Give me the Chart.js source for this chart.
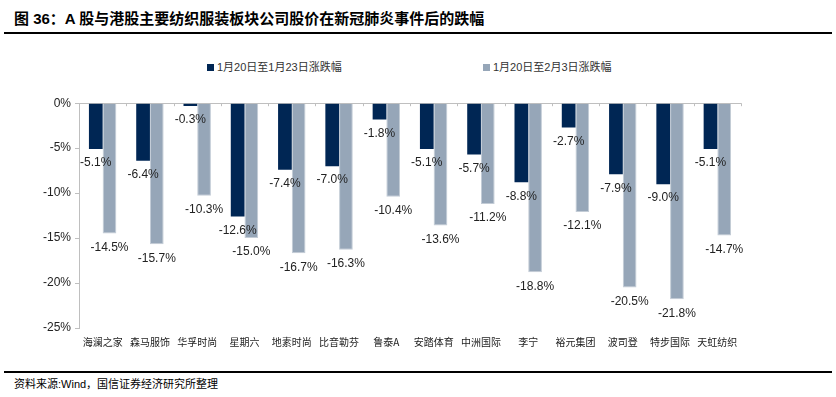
<!DOCTYPE html>
<html>
<head>
<meta charset="utf-8">
<script src="https://cdn.jsdelivr.net/npm/chart.js@4/dist/chart.umd.min.js"></script>
<style>
  body { margin: 0; background: #fff; width: 836px; height: 397px; position: relative; overflow: hidden;
         font-family: "Liberation Sans", "Noto Sans CJK SC", sans-serif; }
  #title { position: absolute; left: 14px; top: 7px; font-size: 15px; font-weight: bold; color: #000; white-space: nowrap; }
  #topline { position: absolute; left: 4px; top: 32px; width: 828px; height: 2px; background: #000; }
  #bottomline { position: absolute; left: 4px; top: 371px; width: 828px; height: 1.5px; background: #000; }
  #source { position: absolute; left: 14px; top: 375px; font-size: 11px; color: #000; white-space: nowrap; }
  #wrap { position: absolute; left: 0; top: 92px; width: 836px; height: 256px; }
  .leg { position: absolute; top: 58px; font-size: 11px; color: #333; white-space: nowrap; }
  .leg i { display: inline-block; width: 7px; height: 7px; margin-right: 3px; vertical-align: 0px; }
</style>
</head>
<body>
<div id="title">图 36：A 股与港股主要纺织服装板块公司股价在新冠肺炎事件后的跌幅</div>
<div id="topline"></div>
<div id="legend"></div>
<div id="wrap"><canvas id="bar-chart"></canvas></div>
<div id="bottomline"></div>
<div id="source">资料来源:Wind，国信证券经济研究所整理</div>
<script>
const labels1 = ["海澜之家", "森马服饰", "华孚时尚", "星期六", "地素时尚", "比音勒芬", "鲁泰A",
  "安踏体育", "中洲国际", "李宁", "裕元集团", "波司登", "特步国际", "天虹纺织"];
const data1 = [-5.1, -6.4, -0.3, -12.6, -7.4, -7.0, -1.8, -5.1, -5.7, -8.8, -2.7, -7.9, -9.0, -5.1];
const data2 = [-14.5, -15.7, -10.3, -15.0, -16.7, -16.3, -10.4, -13.6, -11.2, -18.8, -12.1, -20.5, -21.8, -14.7];
const seriesNames = ["1月20日至1月23日涨跌幅", "1月20日至2月3日涨跌幅"];
const colors = ["#002654", "#96A6B8"];

// 범례는 HTML로
const legendX = [207, 483];
seriesNames.forEach((name, k) => {
  const d = document.createElement("div");
  d.className = "leg";
  d.style.left = legendX[k] + "px";
  d.innerHTML = `<i style="background:${colors[k]}"></i>${name}`;
  document.getElementById("legend").appendChild(d);
});

// 막대 끝 아래에 값 표시 + 카테고리 경계 눈금
const barLabels = {
  id: "barLabels",
  afterDatasetsDraw(chart) {
    const ctx = chart.ctx;
    ctx.save();
    ctx.font = "12px 'Liberation Sans', Arial, sans-serif";
    ctx.fillStyle = "#222";
    ctx.textAlign = "center";
    ctx.textBaseline = "middle";
    chart.data.datasets.forEach((ds, di) => {
      chart.getDatasetMeta(di).data.forEach((bar, i) => {
        ctx.fillText(ds.data[i].toFixed(1) + "%", bar.x, bar.y + 14);
      });
    });
    const x = chart.scales.x, y = chart.scales.y;
    const y0 = y.getPixelForValue(0);
    ctx.strokeStyle = "#BFBFBF";
    ctx.lineWidth = 1;
    ctx.beginPath();
    for (let i = 0; i <= labels1.length; i++) {
      const px = Math.round(x.getPixelForValue(i - 0.5)) + 0.5;
      ctx.moveTo(px, y0);
      ctx.lineTo(px, y0 + 3);
    }
    ctx.stroke();
    ctx.restore();
  },
};

new Chart(document.getElementById("bar-chart"), {
  type: "bar",
  data: {
    labels: labels1,
    datasets: [
      {
        label: seriesNames[0],
        backgroundColor: colors[0],
        data: data1,
      },
      {
        label: seriesNames[1],
        backgroundColor: colors[1],
        borderColor: "#C3CCD6",
        borderWidth: 1,
        data: data2,
      },
    ],
  },
  options: {
    responsive: true,
    maintainAspectRatio: false,
    animation: false,
    layout: { padding: { left: 0, right: 95, top: 0, bottom: 0 } },
    datasets: { bar: { categoryPercentage: 0.58, barPercentage: 1.0 } },
    plugins: {
      legend: { display: false },
      tooltip: { enabled: false },
    },
    scales: {
      x: {
        grid: { display: false },
        border: { display: false },
        ticks: {
          color: "#222",
          padding: 0,
          maxRotation: 0,
          autoSkip: false,
          font: { size: 10, family: "'Noto Sans CJK SC', sans-serif" },
        },
      },
      y: {
        min: -25,
        max: 0,
        afterFit(scale) { scale.width = 79; },
        border: { display: true, color: "#BFBFBF" },
        grid: {
          color: (c) => (c.tick && c.tick.value === 0 ? "#BFBFBF" : "transparent"),
          tickColor: "#BFBFBF",
          tickLength: 4,
        },
        ticks: {
          stepSize: 5,
          padding: 4,
          color: "#222",
          font: { size: 12, family: "'Liberation Sans', Arial, sans-serif" },
          callback: (v) => v + "%",
        },
      },
    },
  },
  plugins: [barLabels],
});
</script>
</body>
</html>
